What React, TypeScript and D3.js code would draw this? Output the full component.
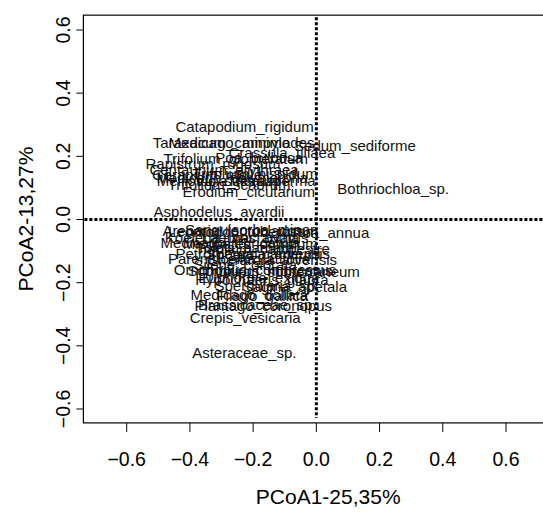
import React from "react";
import * as d3 from "d3";

const species: string[] = [
  "Catapodium_rigidum", "Taraxacum_campylodes", "Medicago_minima", "Sedum_sediforme",
  "Crassula_tillaea", "Trifolium_glomeratum", "Poa_bulbosa", "Rapistrum_rugosum",
  "Centaurium_erythraea", "Geranium_molle", "Medicago_polymorpha", "Trifolium_hispidum",
  "Melilotus_sulcatus", "Vicia_tetrasperma", "Trifolium_scabrum", "Erodium_cicutarium",
  "Bothriochloa_sp.", "Asphodelus_ayardii",
  "Arenaria_leptoclados", "Leontodon_tuberosum", "Sanguisorba_minor", "Poa_annua",
  "Koeleria_macrantha", "Lagurus_ovatus", "Medicago_truncatula", "Misopates_orontium",
  "Tolpis_barbata", "Trifolium_campestre", "Petrorhagia_nanteuilii", "Spergula_arvensis",
  "Parentucellia_latifolia", "Sherardia_arvensis", "Silene_colorata", "Ornithopus_compressus",
  "Scorpiurus_muricatus", "Trifolium_subterraneum", "Euphorbia_exigua", "Hypochaeris_glabra",
  "Spergularia_sp.", "Sagina_apetala", "Medicago_doliata", "Filago_gallica",
  "Plantago_coronopus", "Brassicaceae_sp.", "Crepis_vesicaria", "Asteraceae_sp.",
];

const pcoa1: number[] = [
  -0.227, -0.262, -0.275, 0.122,
  -0.109, -0.255, -0.181, -0.327,
  -0.292, -0.346, -0.266, -0.194,
  -0.311, -0.193, -0.276, -0.214,
  0.243, -0.308,
  -0.264, -0.232, -0.21, 0.046,
  -0.267, -0.194, -0.273, -0.209,
  -0.225, -0.171, -0.216, -0.153,
  -0.245, -0.139, -0.225, -0.194,
  -0.178, -0.112, -0.182, -0.172,
  -0.156, -0.068, -0.212, -0.171,
  -0.168, -0.187, -0.225, -0.228,
];

const pcoa2: number[] = [
  0.293, 0.242, 0.242, 0.233,
  0.21, 0.191, 0.195, 0.176,
  0.157, 0.141, 0.131, 0.144,
  0.124, 0.122, 0.109, 0.087,
  0.096, 0.024,
  -0.036, -0.038, -0.033, -0.043,
  -0.059, -0.059, -0.074, -0.078,
  -0.09, -0.093, -0.109, -0.109,
  -0.125, -0.128, -0.144, -0.16,
  -0.163, -0.166, -0.185, -0.19,
  -0.21, -0.213, -0.239, -0.242,
  -0.274, -0.271, -0.312, -0.423,
];

const xTicks: number[] = [-0.6, -0.4, -0.2, 0.0, 0.2, 0.4, 0.6];
const yTicks: number[] = [-0.6, -0.4, -0.2, 0.0, 0.2, 0.4, 0.6];
const xLim: number[] = [-0.737, 0.812];
const yLim: number[] = [-0.644, 0.647];
const xTitle = "PCoA1-25,35%";
const yTitle = "PCoA2-13,27%";

const FONT = "'Liberation Sans', Arial, Helvetica, sans-serif";

export default function App() {
  const W = 543;
  const H = 514;
  const x = d3.scaleLinear().domain([-0.6, 0.6]).range([126.7, 506]);
  const y = d3.scaleLinear().domain([-0.6, 0.6]).range([409, 30]);
  const fmt = d3.format(".1f");

  const left = x(xLim[0]);
  const right = x(xLim[1]);
  const top = y(yLim[1]);
  const bottom = y(yLim[0]);
  const cx = (left + right) / 2;
  const cy = (top + bottom) / 2;

  return (
    <svg
      width={W}
      height={H}
      style={{ position: "absolute", left: 0, top: 0, display: "block", background: "#fff" }}
      fontFamily={FONT}
    >
      <rect x={0} y={0} width={W} height={H} fill="#fff" />
      {/* reference lines */}
      <line
        x1={x(0)} x2={x(0)} y1={top + 2} y2={bottom - 5}
        stroke="#000" strokeWidth={3} strokeDasharray="3 2"
      />
      <line
        x1={left + 1} x2={right} y1={y(0)} y2={y(0)}
        stroke="#000" strokeWidth={3} strokeDasharray="3 2"
      />
      {/* species labels */}
      {species.map((s, i) => (
        <text
          key={s + i}
          x={x(pcoa1[i])}
          y={y(pcoa2[i])}
          dy="0.35em"
          textAnchor="middle"
          fontSize={15}
          fill="#111"
        >
          {s}
        </text>
      ))}
      {/* box */}
      <rect
        x={left} y={top} width={right - left} height={bottom - top}
        fill="none" stroke="#000" strokeWidth={1.2}
      />
      {/* x axis */}
      {xTicks.map((t) => (
        <g key={"xt" + t}>
          <line x1={x(t)} x2={x(t)} y1={bottom} y2={bottom + 9} stroke="#000" strokeWidth={1} />
          <text x={x(t)} y={466} textAnchor="middle" fontSize={19.5} fill="#000">
            {fmt(t)}
          </text>
        </g>
      ))}
      {/* y axis */}
      {yTicks.map((t) => (
        <g key={"yt" + t}>
          <line x1={left - 7} x2={left} y1={y(t)} y2={y(t)} stroke="#000" strokeWidth={1} />
          <text
            transform={`translate(70,${y(t)}) rotate(-90)`}
            textAnchor="middle"
            fontSize={19.5}
            fill="#000"
          >
            {fmt(t)}
          </text>
        </g>
      ))}
      <text x={cx} y={504} textAnchor="middle" fontSize={21} fill="#000">
        {xTitle}
      </text>
      <text
        transform={`translate(33,${cy}) rotate(-90)`}
        textAnchor="middle"
        fontSize={21}
        fill="#000"
      >
        {yTitle}
      </text>
    </svg>
  );
}
